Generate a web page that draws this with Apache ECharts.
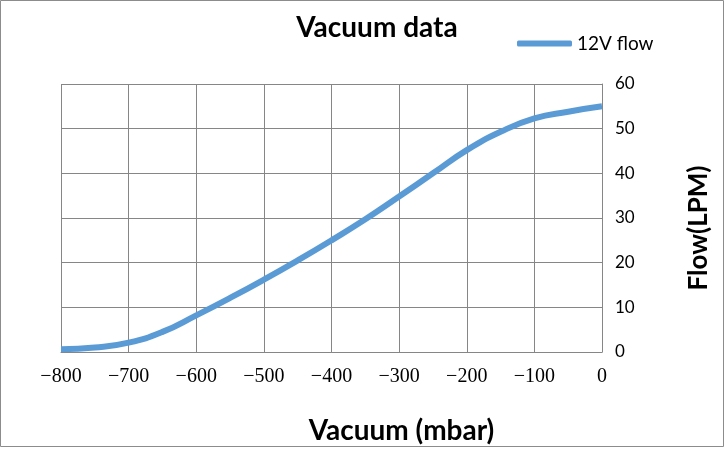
<!DOCTYPE html>
<html><head><meta charset="utf-8">
<script src="https://cdn.jsdelivr.net/npm/echarts@6/dist/echarts.min.js"></script>
<style>html,body{margin:0;padding:0;background:#fff}#c{width:724px;height:450px}</style>
</head><body><div id="c"></div>
<script>
const vacuum = [-800, -750, -700, -650, -600, -550, -500, -450, -400, -350, -300, -250, -200, -150, -100, -50, 0];
const flow12V = [0.6, 1.0, 2.1, 4.5, 8.2, 12.1, 16.2, 20.5, 25.0, 29.7, 34.8, 40.0, 45.2, 49.3, 52.3, 53.8, 55.0];
const seriesName = '12V flow';
const titleText = 'Vacuum data';
const xName = 'Vacuum (mbar)';
const yName = 'Flow(LPM)';

const chart = echarts.init(document.getElementById('c'), null, {renderer: 'canvas'});
chart.setOption({
  animation: false,
  backgroundColor: '#fff',
  title: {
    text: titleText, left: 372, top: 9, textAlign: 'center',
    textStyle: {fontFamily: 'Lato', fontWeight: 'bold', fontSize: 28, color: '#000'}
  },
  legend: {
    data: [seriesName], left: 512, top: 29, itemWidth: 55, itemHeight: 6, itemGap: 2,
    icon: 'roundRect',
    textStyle: {fontFamily: 'Lato', fontSize: 19, color: '#000'}
  },
  grid: {left: 61, right: 122, top: 84, bottom: 98},
  xAxis: {
    type: 'value', min: -800, max: 0, interval: 100,
    name: xName, nameLocation: 'middle', nameGap: 65,
    nameTextStyle: {fontFamily: 'Lato', fontWeight: 'bold', fontSize: 28, color: '#000', padding: [0, 0, 0, 140]},
    axisLine: {show: true, lineStyle: {color: '#868686', width: 1}},
    axisTick: {show: false},
    axisLabel: {fontFamily: 'Liberation Serif', fontSize: 20, color: '#000', margin: 15,
      formatter: v => String(v).replace('-', '\u2212')},
    splitLine: {show: true, lineStyle: {color: '#868686', width: 1}}
  },
  yAxis: {
    type: 'value', min: 0, max: 60, interval: 10, position: 'right',
    name: yName, nameLocation: 'middle', nameGap: 84, nameRotate: 90,
    nameTextStyle: {fontFamily: 'Lato', fontWeight: 'bold', fontSize: 26, color: '#000', padding: [0, 20, 0, 0]},
    axisLine: {show: true, lineStyle: {color: '#868686', width: 1}},
    axisTick: {show: false},
    axisLabel: {fontFamily: 'Lato', fontSize: 17, color: '#000', margin: 13},
    splitLine: {show: true, lineStyle: {color: '#868686', width: 1}}
  },
  graphic: [{
    type: 'rect', shape: {x: 0.5, y: 0.5, width: 723, height: 446},
    style: {fill: 'none', stroke: '#8c8c8c', lineWidth: 1}, silent: true
  }],
  series: [{
    name: seriesName, type: 'line', smooth: true, showSymbol: false,
    data: vacuum.map((v, i) => [v, flow12V[i]]),
    lineStyle: {color: '#5B9BD5', width: 6},
    itemStyle: {color: '#5B9BD5'}
  }]
});
</script></body></html>
